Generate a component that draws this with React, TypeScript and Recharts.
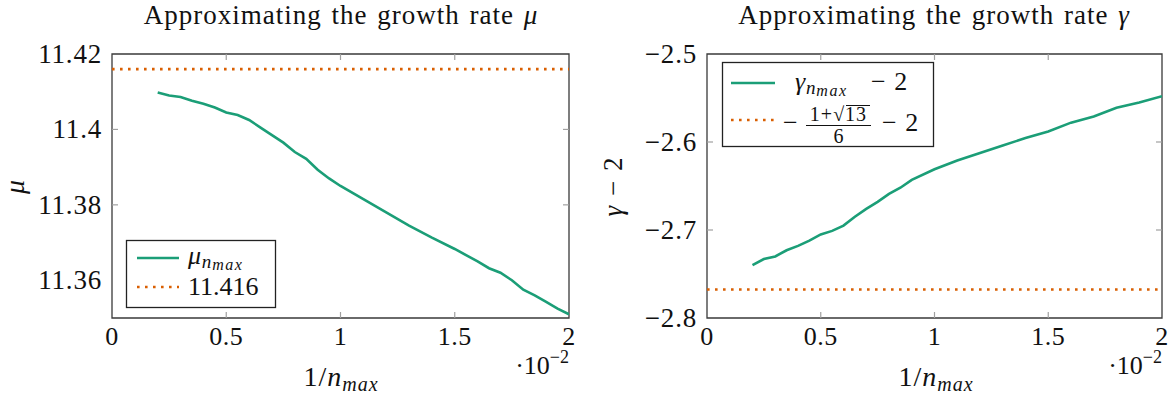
import { Line, LineChart, ReferenceArea, ReferenceLine, XAxis, YAxis } from "recharts";

const FONT = '"Liberation Serif", "Times New Roman", serif';
const GREEN = "#1b9e77";
const ORANGE = "#d95f02";
const FRAME = "#3a3a3a";
const TICK_GRAY = "#a0a0a0";
const INK = "#111";
const FS = 26;

const xTicks = [0, 0.5, 1, 1.5, 2];

// 1/n_max in units of 1e-2
const muInvN = [0.2, 0.25, 0.3, 0.35, 0.4, 0.45, 0.5, 0.55, 0.6, 0.65, 0.7, 0.75, 0.8, 0.85, 0.9, 0.95, 1.0, 1.1, 1.2, 1.3, 1.4, 1.5, 1.6, 1.65, 1.7, 1.75, 1.8, 1.85, 1.9, 1.95, 2.0];
const muValues = [11.4098, 11.409, 11.4086, 11.4076, 11.4068, 11.4058, 11.4045, 11.4038, 11.4025, 11.4005, 11.3985, 11.3965, 11.394, 11.3922, 11.3893, 11.387, 11.385, 11.3815, 11.378, 11.3745, 11.3713, 11.3683, 11.365, 11.3632, 11.362, 11.36, 11.3575, 11.356, 11.3543, 11.3525, 11.351];
const muLimit = 11.416;
const muTicks = [11.36, 11.38, 11.4, 11.42];

const gammaInvN = [0.2, 0.25, 0.3, 0.35, 0.4, 0.45, 0.5, 0.55, 0.6, 0.65, 0.7, 0.75, 0.8, 0.85, 0.9, 1.0, 1.1, 1.2, 1.3, 1.4, 1.5, 1.6, 1.7, 1.8, 1.9, 2.0];
const gammaValues = [-2.74, -2.733, -2.73, -2.723, -2.718, -2.712, -2.705, -2.701, -2.695, -2.685, -2.676, -2.668, -2.659, -2.652, -2.643, -2.631, -2.621, -2.6125, -2.604, -2.5955, -2.588, -2.578, -2.571, -2.561, -2.555, -2.548];
const gammaLimit = -(1 + Math.sqrt(13)) / 6 - 2;
const gammaTicks = [-2.8, -2.7, -2.6, -2.5];

const W = 1172;
const H = 396;
const PLOT_TOP = 54;
const PLOT_BOTTOM = 318;
const Y_AXIS_W = 100;
const X_AXIS_H = 40;
const GAP = 8;
const TICK_LEN = 6;

const fmt = (v: number) => String(v).replace("-", "\u2212");

function makeXTick(plotH: number) {
  return (props: any) => {
    const { x, y, payload } = props;
    const axisY = y - GAP;
    const edge = payload.value === xTicks[0] || payload.value === xTicks[xTicks.length - 1];
    return (
      <g>
        {!edge && (
          <>
            <line x1={x} x2={x} y1={axisY} y2={axisY - TICK_LEN} stroke={TICK_GRAY} strokeWidth={1.2} />
            <line x1={x} x2={x} y1={axisY - plotH} y2={axisY - plotH + TICK_LEN} stroke={TICK_GRAY} strokeWidth={1.2} />
          </>
        )}
        <text x={x} y={y + 19} textAnchor="middle" fontFamily={FONT} fontSize={FS} fill={INK} letterSpacing={0.5}>
          {fmt(payload.value)}
        </text>
      </g>
    );
  };
}

function makeYTick(plotW: number, ticks: number[]) {
  return (props: any) => {
    const { x, y, payload } = props;
    const axisX = x + GAP;
    const edge = payload.value === ticks[0] || payload.value === ticks[ticks.length - 1];
    return (
      <g>
        {!edge && (
          <>
            <line x1={axisX} x2={axisX + TICK_LEN} y1={y} y2={y} stroke={TICK_GRAY} strokeWidth={1.2} />
            <line x1={axisX + plotW} x2={axisX + plotW - TICK_LEN} y1={y} y2={y} stroke={TICK_GRAY} strokeWidth={1.2} />
          </>
        )}
        <text x={x - 2} y={y + 9} textAnchor="end" fontFamily={FONT} fontSize={FS + 1} fill={INK} letterSpacing={0.8}>
          {fmt(payload.value)}
        </text>
      </g>
    );
  };
}

type PanelProps = {
  left: number;
  width: number;
  plotLeft: number;
  plotRight: number;
  xs: number[];
  ys: number[];
  limit: number;
  yDomain: [number, number];
  yTicks: number[];
};

function Panel({ left, width, plotLeft, plotRight, xs, ys, limit, yDomain, yTicks }: PanelProps) {
  const rows = xs.map((x, i) => ({ x, v: ys[i] }));
  const plotW = plotRight - plotLeft;
  const plotH = PLOT_BOTTOM - PLOT_TOP;
  return (
    <div style={{ position: "absolute", left, top: 0 }}>
      <LineChart
        width={width}
        height={H}
        data={rows}
        margin={{
          top: PLOT_TOP,
          right: width - plotRight,
          bottom: H - PLOT_BOTTOM - X_AXIS_H,
          left: plotLeft - Y_AXIS_W,
        }}
      >
        <XAxis
          type="number"
          dataKey="x"
          domain={[0, 2]}
          ticks={xTicks}
          height={X_AXIS_H}
          axisLine={false}
          tickLine={false}
          tickSize={0}
          tickMargin={GAP}
          interval={0}
          tick={makeXTick(plotH)}
          allowDataOverflow
        />
        <YAxis
          type="number"
          domain={yDomain}
          ticks={yTicks}
          width={Y_AXIS_W}
          axisLine={false}
          tickLine={false}
          tickSize={0}
          tickMargin={GAP}
          interval={0}
          tick={makeYTick(plotW, yTicks)}
          allowDataOverflow
        />
        <ReferenceLine y={limit} stroke={ORANGE} strokeWidth={2.6} strokeDasharray="2.6 5.4" />
        <Line
          type="linear"
          dataKey="v"
          stroke={GREEN}
          strokeWidth={2.6}
          dot={false}
          activeDot={false}
          isAnimationActive={false}
        />
        <ReferenceArea x1={0} x2={2} y1={yDomain[0]} y2={yDomain[1]} fill="none" stroke={FRAME} strokeWidth={1.3} />
      </LineChart>
    </div>
  );
}

function Overlay() {
  const t = { fontFamily: FONT, fontSize: FS, fill: INK };
  const title = { ...t, fontSize: 27, letterSpacing: 1, wordSpacing: 2 };
  return (
    <svg width={W} height={H} style={{ position: "absolute", left: 0, top: 0, pointerEvents: "none" }}>
      {/* titles */}
      <text {...title} x={341} y={24} textAnchor="middle">
        Approximating the growth rate <tspan fontStyle="italic">μ</tspan>
      </text>
      <text {...title} x={934} y={24} textAnchor="middle">
        Approximating the growth rate <tspan fontStyle="italic">γ</tspan>
      </text>

      {/* axis labels */}
      <text {...t} fontSize={28} transform="translate(24,187) rotate(-90)" textAnchor="middle" fontStyle="italic">
        μ
      </text>
      <text {...t} fontSize={27} transform="translate(622,187) rotate(-90)" textAnchor="middle" wordSpacing={3}>
        <tspan fontStyle="italic">γ</tspan> − 2
      </text>
      {[341, 936].map((cx) => (
        <text key={cx} {...t} fontSize={28} x={cx} y={386} textAnchor="middle" letterSpacing={1}>
          1/<tspan fontStyle="italic">n</tspan>
          <tspan fontStyle="italic" fontSize={20} dy={5}>
            max
          </tspan>
        </text>
      ))}
      {[569, 1162].map((rx) => (
        <text key={rx} {...t} x={rx} y={374} textAnchor="end">
          ·10
          <tspan fontSize={18} dy={-11}>
            −2
          </tspan>
        </text>
      ))}

      {/* legend, left panel */}
      <rect x={126.5} y={240.5} width={149} height={67} fill="#fff" stroke="#222" strokeWidth={1.3} />
      <line x1={137} x2={179} y1={258} y2={258} stroke={GREEN} strokeWidth={2.6} />
      <text {...t} x={188} y={264} fontStyle="italic" letterSpacing={0.8}>
        μ
        <tspan fontSize={19} dy={4}>
          n
        </tspan>
        <tspan fontSize={16} dy={2} letterSpacing={1.5}>
          max
        </tspan>
      </text>
      <line x1={137} x2={179} y1={287} y2={287} stroke={ORANGE} strokeWidth={2.6} strokeDasharray="2.6 5.4" />
      <text {...t} x={188} y={295}>
        {fmt(muLimit)}
      </text>

      {/* legend, right panel */}
      <rect x={722.5} y={62.5} width={211} height={84} fill="#fff" stroke="#222" strokeWidth={1.3} />
      <line x1={731} x2={775} y1={83} y2={83} stroke={GREEN} strokeWidth={2.6} />
      <text {...t} x={795} y={90} fontStyle="italic" letterSpacing={0.8}>
        γ
        <tspan fontSize={19} dy={4}>
          n
        </tspan>
        <tspan fontSize={16} dy={2} letterSpacing={1.5}>
          max
        </tspan>
      </text>
      <text {...t} x={871} y={90} wordSpacing={2}>
        − 2
      </text>
      <line x1={731} x2={775} y1={120} y2={120} stroke={ORANGE} strokeWidth={2.6} strokeDasharray="2.6 5.4" />
      <text {...t} x={783} y={131}>
        −
      </text>
      <text {...t} fontSize={20} x={838.5} y={121} textAnchor="middle" letterSpacing={1}>
        1+√13
      </text>
      <line x1={846} x2={870} y1={105.5} y2={105.5} stroke={INK} strokeWidth={1} />
      <line x1={806} x2={871} y1={125.5} y2={125.5} stroke={INK} strokeWidth={1} />
      <text {...t} fontSize={20} x={838.5} y={143} textAnchor="middle">
        6
      </text>
      <text {...t} x={882} y={131} wordSpacing={2}>
        − 2
      </text>
    </svg>
  );
}

export default function App() {
  return (
    <div style={{ position: "absolute", left: 0, top: 0, width: W, height: H, background: "#fff" }}>
      <Panel
        left={0}
        width={586}
        plotLeft={112}
        plotRight={569}
        xs={muInvN}
        ys={muValues}
        limit={muLimit}
        yDomain={[11.35, 11.42]}
        yTicks={muTicks}
      />
      <Panel
        left={586}
        width={586}
        plotLeft={121}
        plotRight={576}
        xs={gammaInvN}
        ys={gammaValues}
        limit={gammaLimit}
        yDomain={[-2.8, -2.5]}
        yTicks={gammaTicks}
      />
      <Overlay />
    </div>
  );
}
